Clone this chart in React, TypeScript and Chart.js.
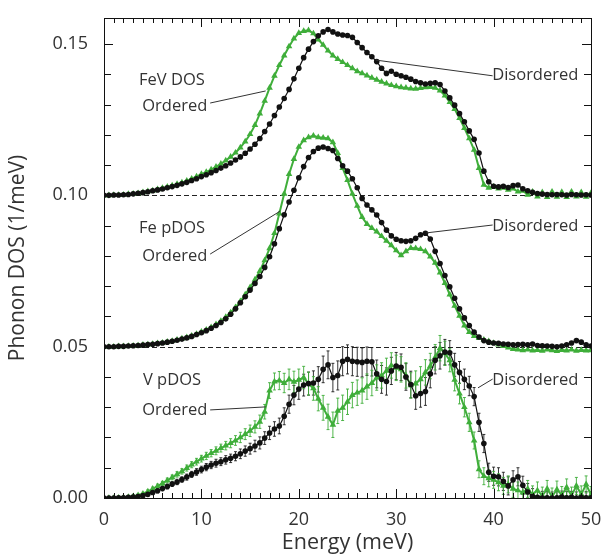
import React, { useEffect, useRef } from "react";
import { Chart, registerables } from "chart.js";

Chart.register(...registerables);

// Energy grid (meV)
const energy = [
  0, 0.5, 1, 1.5, 2, 2.5, 3, 3.5, 4, 4.5,
  5, 5.5, 6, 6.5, 7, 7.5, 8, 8.5, 9, 9.5,
  10, 10.5, 11, 11.5, 12, 12.5, 13, 13.5, 14, 14.5,
  15, 15.5, 16, 16.5, 17, 17.5, 18, 18.5, 19, 19.5,
  20, 20.5, 21, 21.5, 22, 22.5, 23, 23.5, 24, 24.5,
  25, 25.5, 26, 26.5, 27, 27.5, 28, 28.5, 29, 29.5,
  30, 30.5, 31, 31.5, 32, 32.5, 33, 33.5, 34, 34.5,
  35, 35.5, 36, 36.5, 37, 37.5, 38, 38.5, 39, 39.5,
  40, 40.5, 41, 41.5, 42, 42.5, 43, 43.5, 44, 44.5,
  45, 45.5, 46, 46.5, 47, 47.5, 48, 48.5, 49, 49.5,
  50,
];

// FeV total DOS (plotted with +0.10 offset)
const fevDisordered = [
  0.0000, 0.0000, 0.0001, 0.0001, 0.0002, 0.0003, 0.0005, 0.0007, 0.0009, 0.0012,
  0.0015, 0.0018, 0.0021, 0.0025, 0.0029, 0.0033, 0.0038, 0.0043, 0.0049, 0.0055,
  0.0062, 0.0068, 0.0075, 0.0082, 0.0090, 0.0098, 0.0107, 0.0117, 0.0127, 0.0139,
  0.0153, 0.0169, 0.0188, 0.0211, 0.0236, 0.0264, 0.0292, 0.0320, 0.0350, 0.0385,
  0.0420, 0.0455, 0.0483, 0.0508, 0.0527, 0.0540, 0.0548, 0.0540, 0.0533, 0.0530,
  0.0528, 0.0522, 0.0505, 0.0488, 0.0472, 0.0458, 0.0442, 0.0420, 0.0403, 0.0410,
  0.0400, 0.0395, 0.0390, 0.0384, 0.0376, 0.0372, 0.0368, 0.0370, 0.0372, 0.0366,
  0.0345, 0.0322, 0.0298, 0.0270, 0.0243, 0.0213, 0.0185, 0.0140, 0.0080, 0.0045,
  0.0030, 0.0028, 0.0030, 0.0026, 0.0032, 0.0034, 0.0022, 0.0015, 0.0010, 0.0006,
  0.0004, 0.0003, 0.0002, 0.0003, 0.0002, 0.0001, 0.0003, 0.0002, 0.0001, 0.0002,
  0.0001,
];
const fevOrdered = [
  0.0000, 0.0000, 0.0001, 0.0001, 0.0002, 0.0004, 0.0005, 0.0007, 0.0010, 0.0013,
  0.0016, 0.0020, 0.0024, 0.0028, 0.0032, 0.0037, 0.0042, 0.0048, 0.0055, 0.0062,
  0.0070, 0.0077, 0.0085, 0.0094, 0.0104, 0.0115, 0.0127, 0.0141, 0.0158, 0.0178,
  0.0202, 0.0232, 0.0270, 0.0312, 0.0355, 0.0395, 0.0430, 0.0462, 0.0492, 0.0518,
  0.0536, 0.0543, 0.0545, 0.0535, 0.0515, 0.0497, 0.0478, 0.0462, 0.0450, 0.0440,
  0.0430, 0.0420, 0.0410, 0.0403, 0.0396, 0.0388, 0.0382, 0.0375, 0.0369, 0.0364,
  0.0360, 0.0357, 0.0355, 0.0353, 0.0352, 0.0354, 0.0357, 0.0358, 0.0355, 0.0346,
  0.0330, 0.0308, 0.0285, 0.0255, 0.0222, 0.0188, 0.0150, 0.0090, 0.0035, 0.0025,
  0.0028, 0.0022, 0.0025, 0.0018, 0.0022, 0.0012, 0.0015, 0.0002, 0.0012, -0.0004,
  0.0010, -0.0006, 0.0012, -0.0005, 0.0011, -0.0006, 0.0012, -0.0004, 0.0010, -0.0005,
  0.0008,
];

// Fe partial DOS (plotted with +0.05 offset)
const feDisordered = [
  0.0000, 0.0000, 0.0000, 0.0001, 0.0001, 0.0002, 0.0003, 0.0004, 0.0005, 0.0007,
  0.0008, 0.0010, 0.0012, 0.0015, 0.0018, 0.0021, 0.0025, 0.0029, 0.0034, 0.0040,
  0.0046, 0.0053, 0.0061, 0.0070, 0.0080, 0.0092, 0.0107, 0.0125, 0.0145, 0.0165,
  0.0187, 0.0209, 0.0232, 0.0262, 0.0297, 0.0340, 0.0390, 0.0436, 0.0478, 0.0517,
  0.0558, 0.0595, 0.0625, 0.0645, 0.0656, 0.0660, 0.0655, 0.0648, 0.0622, 0.0598,
  0.0580, 0.0555, 0.0525, 0.0490, 0.0468, 0.0452, 0.0435, 0.0410, 0.0385, 0.0366,
  0.0355, 0.0350, 0.0348, 0.0350, 0.0358, 0.0370, 0.0375, 0.0356, 0.0315, 0.0275,
  0.0235, 0.0198, 0.0160, 0.0125, 0.0095, 0.0070, 0.0048, 0.0032, 0.0020, 0.0015,
  0.0012, 0.0011, 0.0009, 0.0008, 0.0006, 0.0007, 0.0008, 0.0006, 0.0009, 0.0004,
  0.0003, 0.0002, 0.0001, 0.0000, 0.0002, 0.0006, 0.0012, 0.0020, 0.0015, 0.0006,
  0.0002,
];
const feOrdered = [
  0.0000, 0.0000, 0.0000, 0.0001, 0.0001, 0.0002, 0.0003, 0.0004, 0.0006, 0.0007,
  0.0009, 0.0011, 0.0013, 0.0016, 0.0019, 0.0023, 0.0027, 0.0031, 0.0036, 0.0042,
  0.0049, 0.0056, 0.0064, 0.0074, 0.0085, 0.0098, 0.0113, 0.0130, 0.0150, 0.0172,
  0.0196, 0.0222, 0.0250, 0.0285, 0.0325, 0.0375, 0.0440, 0.0505, 0.0570, 0.0620,
  0.0660, 0.0682, 0.0692, 0.0697, 0.0692, 0.0690, 0.0688, 0.0675, 0.0640, 0.0590,
  0.0550, 0.0505, 0.0465, 0.0428, 0.0405, 0.0392, 0.0380, 0.0365, 0.0350, 0.0335,
  0.0318, 0.0302, 0.0315, 0.0326, 0.0325, 0.0322, 0.0315, 0.0298, 0.0277, 0.0245,
  0.0210, 0.0172, 0.0135, 0.0102, 0.0070, 0.0048, 0.0035, 0.0028, 0.0023, 0.0018,
  0.0012, 0.0007, 0.0002, -0.0003, -0.0008, -0.0010, -0.0012, -0.0010, -0.0013, -0.0011,
  -0.0014, -0.0010, -0.0012, -0.0015, -0.0011, -0.0013, -0.0010, -0.0014, -0.0011, -0.0013,
  -0.0012,
];

// V partial DOS (no offset)
const vDisordered = [
  0.0000, 0.0000, 0.0000, 0.0001, 0.0001, 0.0002, 0.0003, 0.0005, 0.0008, 0.0012,
  0.0018, 0.0024, 0.0031, 0.0038, 0.0046, 0.0053, 0.0061, 0.0069, 0.0078, 0.0086,
  0.0094, 0.0102, 0.0109, 0.0115, 0.0120, 0.0126, 0.0131, 0.0138, 0.0146, 0.0155,
  0.0163, 0.0172, 0.0182, 0.0198, 0.0215, 0.0228, 0.0238, 0.0270, 0.0310, 0.0340,
  0.0360, 0.0373, 0.0378, 0.0380, 0.0392, 0.0425, 0.0440, 0.0398, 0.0405, 0.0452,
  0.0458, 0.0452, 0.0450, 0.0448, 0.0452, 0.0450, 0.0410, 0.0392, 0.0385, 0.0420,
  0.0436, 0.0432, 0.0400, 0.0375, 0.0338, 0.0345, 0.0352, 0.0410, 0.0455, 0.0470,
  0.0482, 0.0480, 0.0440, 0.0415, 0.0392, 0.0370, 0.0335, 0.0250, 0.0180, 0.0085,
  0.0072, 0.0070, 0.0055, 0.0040, 0.0060, 0.0070, 0.0042, 0.0020, 0.0005, 0.0002,
  0.0000, 0.0001, 0.0000, 0.0001, 0.0003, 0.0001, 0.0002, 0.0000, 0.0002, 0.0001,
  0.0001,
];
const vOrdered = [
  0.0000, 0.0000, 0.0000, 0.0001, 0.0002, 0.0003, 0.0006, 0.0009, 0.0014, 0.0021,
  0.0030, 0.0039, 0.0048, 0.0058, 0.0068, 0.0078, 0.0088, 0.0099, 0.0110, 0.0120,
  0.0130, 0.0139, 0.0148, 0.0156, 0.0165, 0.0173, 0.0181, 0.0190, 0.0200, 0.0211,
  0.0222, 0.0235, 0.0252, 0.0285, 0.0355, 0.0385, 0.0388, 0.0380, 0.0392, 0.0384,
  0.0390, 0.0398, 0.0378, 0.0362, 0.0328, 0.0298, 0.0268, 0.0242, 0.0288, 0.0298,
  0.0318, 0.0340, 0.0348, 0.0355, 0.0368, 0.0380, 0.0398, 0.0405, 0.0420, 0.0438,
  0.0430, 0.0425, 0.0405, 0.0372, 0.0378, 0.0392, 0.0415, 0.0436, 0.0465, 0.0495,
  0.0478, 0.0455, 0.0390, 0.0345, 0.0300, 0.0250, 0.0190, 0.0095, 0.0072, 0.0065,
  0.0060, 0.0052, 0.0040, 0.0045, 0.0030, 0.0025, 0.0018, 0.0030, 0.0012, 0.0025,
  0.0008, 0.0030, 0.0005, 0.0028, 0.0010, 0.0035, 0.0008, 0.0040, 0.0012, 0.0045,
  0.0010,
];

// V partial DOS uncertainties
const vDisorderedErr = [
  0.0002, 0.0002, 0.0003, 0.0003, 0.0003, 0.0004, 0.0004, 0.0005, 0.0005, 0.0006,
  0.0006, 0.0007, 0.0007, 0.0008, 0.0008, 0.0009, 0.0009, 0.0010, 0.0010, 0.0011,
  0.0011, 0.0012, 0.0012, 0.0013, 0.0013, 0.0014, 0.0014, 0.0015, 0.0016, 0.0017,
  0.0018, 0.0019, 0.0020, 0.0021, 0.0022, 0.0024, 0.0026, 0.0028, 0.0030, 0.0032,
  0.0034, 0.0036, 0.0038, 0.0040, 0.0042, 0.0044, 0.0046, 0.0047, 0.0048, 0.0048,
  0.0048, 0.0048, 0.0048, 0.0048, 0.0047, 0.0047, 0.0046, 0.0046, 0.0045, 0.0045,
  0.0045, 0.0044, 0.0044, 0.0044, 0.0045, 0.0045, 0.0046, 0.0046, 0.0045, 0.0044,
  0.0042, 0.0040, 0.0038, 0.0036, 0.0034, 0.0032, 0.0030, 0.0030, 0.0030, 0.0030,
  0.0030, 0.0030, 0.0030, 0.0030, 0.0030, 0.0030, 0.0030, 0.0028, 0.0026, 0.0024,
  0.0022, 0.0020, 0.0020, 0.0020, 0.0020, 0.0020, 0.0020, 0.0020, 0.0020, 0.0020,
  0.0020,
];
const vOrderedErr = [
  0.0002, 0.0002, 0.0003, 0.0003, 0.0003, 0.0004, 0.0004, 0.0005, 0.0005, 0.0006,
  0.0006, 0.0007, 0.0007, 0.0008, 0.0008, 0.0009, 0.0009, 0.0010, 0.0010, 0.0011,
  0.0011, 0.0012, 0.0012, 0.0013, 0.0013, 0.0014, 0.0015, 0.0016, 0.0017, 0.0018,
  0.0019, 0.0020, 0.0022, 0.0024, 0.0026, 0.0028, 0.0030, 0.0032, 0.0034, 0.0035,
  0.0036, 0.0037, 0.0038, 0.0039, 0.0040, 0.0041, 0.0042, 0.0042, 0.0042, 0.0042,
  0.0042, 0.0042, 0.0042, 0.0042, 0.0042, 0.0042, 0.0042, 0.0042, 0.0042, 0.0042,
  0.0042, 0.0042, 0.0042, 0.0042, 0.0042, 0.0042, 0.0042, 0.0042, 0.0042, 0.0042,
  0.0040, 0.0038, 0.0036, 0.0034, 0.0032, 0.0030, 0.0028, 0.0028, 0.0028, 0.0028,
  0.0028, 0.0028, 0.0028, 0.0028, 0.0028, 0.0028, 0.0028, 0.0028, 0.0028, 0.0028,
  0.0028, 0.0028, 0.0028, 0.0028, 0.0028, 0.0028, 0.0028, 0.0028, 0.0028, 0.0028,
  0.0028,
];

const fevOffset = 0.1;
const feOffset = 0.05;
const vOffset = 0;

const xTickValues = [0, 10, 20, 30, 40, 50];
const yTickValues = [0, 0.05, 0.1, 0.15];
const baselineValues = [0.05, 0.1];

const GREEN = "#3fae3a";
const BLACK = "#111111";
const TEXT = "#333333";
const FONT = "'Open Sans', 'Noto Sans', sans-serif";

type Ann = {
  text: string;
  x: number;
  y: number;
  align: CanvasTextAlign;
  line?: [number, number, number, number];
};

// Annotation positions in data coordinates (energy, DOS)
const annotations: Ann[] = [
  { text: "FeV DOS", x: 3.6, y: 0.1381, align: "left" },
  { text: "Ordered", x: 10.6, y: 0.1295, align: "right", line: [10.9, 0.1305, 16.6, 0.1345] },
  { text: "Disordered", x: 48.7, y: 0.1398, align: "right", line: [39.9, 0.1395, 27.9, 0.1447] },
  { text: "Fe pDOS", x: 3.6, y: 0.0892, align: "left" },
  { text: "Ordered", x: 10.6, y: 0.08, align: "right", line: [10.9, 0.0806, 18.1, 0.0948] },
  { text: "Disordered", x: 48.7, y: 0.0899, align: "right", line: [39.9, 0.0902, 33.1, 0.0876] },
  { text: "V pDOS", x: 4.0, y: 0.039, align: "left" },
  { text: "Ordered", x: 10.6, y: 0.0291, align: "right", line: [10.9, 0.0291, 16.6, 0.0301] },
  { text: "Disordered", x: 48.7, y: 0.039, align: "right", line: [39.9, 0.0393, 38.4, 0.0364] },
];

const errorSets = [
  { values: vDisordered, err: vDisorderedErr, offset: vOffset, color: "rgba(20,20,20,0.85)" },
  { values: vOrdered, err: vOrderedErr, offset: vOffset, color: "rgba(63,174,58,0.9)" },
];

const decorPlugin = {
  id: "decor",
  beforeDatasetsDraw(chart: any) {
    const { ctx, chartArea: a, scales } = chart;
    const x = scales.x;
    const y = scales.y;
    ctx.save();
    ctx.beginPath();
    ctx.rect(a.left, a.top, a.right - a.left, a.bottom - a.top);
    ctx.clip();
    ctx.strokeStyle = "#222";
    ctx.lineWidth = 1;
    ctx.setLineDash([5, 3]);
    baselineValues.forEach((b) => {
      const py = Math.round(y.getPixelForValue(b)) + 0.5;
      ctx.beginPath();
      ctx.moveTo(a.left, py);
      ctx.lineTo(a.right, py);
      ctx.stroke();
    });
    ctx.setLineDash([]);
    errorSets.forEach((s) => {
      ctx.strokeStyle = s.color;
      ctx.lineWidth = 1;
      energy.forEach((e, i) => {
        const px = x.getPixelForValue(e);
        const v = s.values[i] + s.offset;
        const y1 = y.getPixelForValue(v + s.err[i]);
        const y2 = y.getPixelForValue(v - s.err[i]);
        ctx.beginPath();
        ctx.moveTo(px, y1);
        ctx.lineTo(px, y2);
        ctx.moveTo(px - 1.5, y1);
        ctx.lineTo(px + 1.5, y1);
        ctx.moveTo(px - 1.5, y2);
        ctx.lineTo(px + 1.5, y2);
        ctx.stroke();
      });
    });
    ctx.restore();
  },
  afterDraw(chart: any) {
    const { ctx, chartArea: a, scales } = chart;
    const x = scales.x;
    const y = scales.y;
    ctx.save();
    ctx.strokeStyle = "#111";
    ctx.lineWidth = 1;
    ctx.strokeRect(Math.round(a.left) + 0.5, Math.round(a.top) + 0.5, Math.round(a.right - a.left), Math.round(a.bottom - a.top));
    for (let e = 0; e <= 50; e += 1) {
      const px = Math.round(x.getPixelForValue(e)) + 0.5;
      const len = e % 10 === 0 ? 9 : 5;
      ctx.beginPath();
      ctx.moveTo(px, a.bottom);
      ctx.lineTo(px, a.bottom - len);
      ctx.moveTo(px, a.top);
      ctx.lineTo(px, a.top + len);
      ctx.stroke();
    }
    for (let k = 0; k <= 15; k += 1) {
      const py = Math.round(y.getPixelForValue(k / 100)) + 0.5;
      const len = k % 5 === 0 ? 9 : 7;
      ctx.beginPath();
      ctx.moveTo(a.left, py);
      ctx.lineTo(a.left + len, py);
      ctx.moveTo(a.right, py);
      ctx.lineTo(a.right - len, py);
      ctx.stroke();
    }
    ctx.fillStyle = TEXT;
    ctx.font = `16.5px ${FONT}`;
    ctx.textBaseline = "middle";
    annotations.forEach((an) => {
      ctx.textAlign = an.align;
      ctx.fillText(an.text, x.getPixelForValue(an.x), y.getPixelForValue(an.y));
      if (an.line) {
        ctx.strokeStyle = "#333";
        ctx.lineWidth = 1;
        ctx.beginPath();
        ctx.moveTo(x.getPixelForValue(an.line[0]), y.getPixelForValue(an.line[1]));
        ctx.lineTo(x.getPixelForValue(an.line[2]), y.getPixelForValue(an.line[3]));
        ctx.stroke();
      }
    });
    ctx.restore();
  },
};

function makeData(values: number[], offset: number) {
  return energy.map((e, i) => ({ x: e, y: values[i] + offset }));
}

function disStyle(label: string, values: number[], offset: number) {
  return {
    label,
    data: makeData(values, offset),
    borderColor: BLACK,
    borderWidth: 1.2,
    pointStyle: "circle",
    pointRadius: 2.8,
    pointBackgroundColor: BLACK,
    pointBorderWidth: 0,
    tension: 0,
    order: 1,
  };
}

function ordStyle(label: string, values: number[], offset: number) {
  return {
    label,
    data: makeData(values, offset),
    borderColor: GREEN,
    borderWidth: 2,
    pointStyle: "triangle",
    pointRadius: 3.8,
    pointBackgroundColor: GREEN,
    pointBorderWidth: 0,
    tension: 0,
    order: 2,
  };
}

export default function App() {
  const ref = useRef<HTMLCanvasElement>(null);
  useEffect(() => {
    if (!ref.current) return;
    const chart = new Chart(ref.current, {
      type: "line",
      data: {
        datasets: [
          disStyle("FeV Disordered", fevDisordered, fevOffset),
          ordStyle("FeV Ordered", fevOrdered, fevOffset),
          disStyle("Fe Disordered", feDisordered, feOffset),
          ordStyle("Fe Ordered", feOrdered, feOffset),
          disStyle("V Disordered", vDisordered, vOffset),
          ordStyle("V Ordered", vOrdered, vOffset),
        ] as any,
      },
      options: {
        animation: false,
        responsive: false,
        maintainAspectRatio: false,
        layout: { padding: { left: 0, right: 12, top: 18, bottom: 0 } },
        plugins: { legend: { display: false }, tooltip: { enabled: false } },
        scales: {
          x: {
            type: "linear",
            min: 0,
            max: 50,
            grid: { display: false, drawTicks: false },
            border: { display: false },
            afterBuildTicks: (s: any) => {
              s.ticks = xTickValues.map((v) => ({ value: v }));
            },
            afterFit: (s: any) => {
              s.height = 58;
              s.paddingLeft = 0;
              s.paddingRight = 0;
            },
            ticks: {
              color: TEXT,
              padding: 11,
              font: { family: FONT, size: 18 },
              maxRotation: 0,
              callback: (v: any) => String(v),
            },
            title: {
              display: true,
              text: "Energy (meV)",
              color: TEXT,
              font: { family: FONT, size: 21.5 },
              padding: { top: 0, bottom: 0 },
            },
          },
          y: {
            type: "linear",
            min: 0,
            max: 0.1586,
            grid: { display: false, drawTicks: false },
            border: { display: false },
            afterBuildTicks: (s: any) => {
              s.ticks = yTickValues.map((v) => ({ value: v }));
            },
            afterFit: (s: any) => {
              s.width = 104;
              s.paddingTop = 0;
              s.paddingBottom = 0;
            },
            ticks: {
              color: TEXT,
              padding: 16,
              font: { family: FONT, size: 18 },
              callback: (v: any) => Number(v).toFixed(2),
            },
            title: {
              display: true,
              text: "Phonon DOS (1/meV)",
              color: TEXT,
              font: { family: FONT, size: 21 },
              padding: { top: 5, bottom: 0 },
            },
          },
        },
      },
      plugins: [decorPlugin],
    } as any);
    return () => chart.destroy();
  }, []);
  return (
    <div style={{ position: "fixed", left: 0, top: 0, width: 603, height: 556, background: "#fff" }}>
      <canvas ref={ref} width={603} height={556} style={{ display: "block", width: 603, height: 556 }} />
    </div>
  );
}
